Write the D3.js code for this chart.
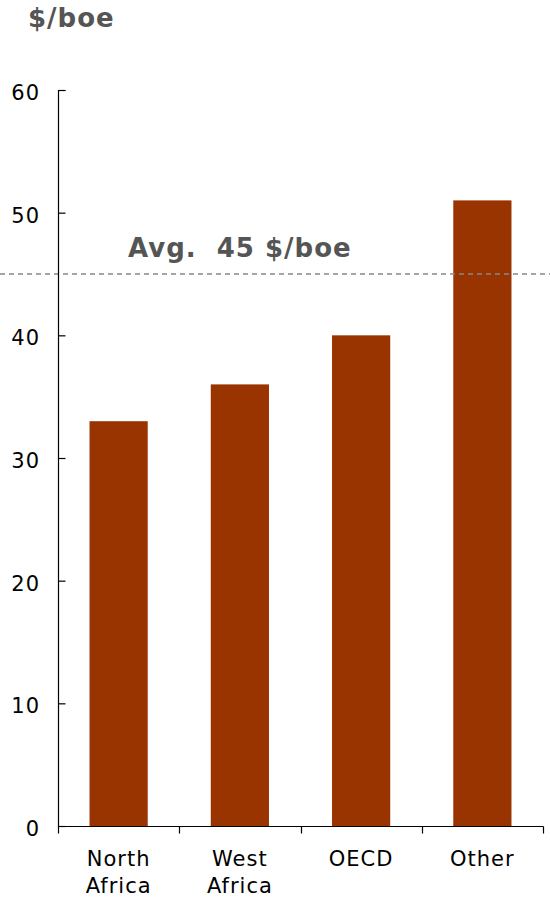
<!DOCTYPE html>
<html>
<head>
<meta charset="utf-8">
<script src="https://cdn.jsdelivr.net/npm/d3@7"></script>
<style>
  html, body { margin: 0; padding: 0; background: #fff; }
  svg { display: block; font-family: "DejaVu Sans", Verdana, sans-serif; }
</style>
</head>
<body>
<svg id="chart" width="550" height="899"></svg>
<script>
// Cost per barrel of oil equivalent by region
const categories = [["North", "Africa"], ["West", "Africa"], ["OECD"], ["Other"]];
const values = [33, 36, 40, 51];
const average = 45;
const yTicks = [0, 10, 20, 30, 40, 50, 60];

const svg = d3.select("#chart");
const plotLeft = 58, plotRight = 543, plotTop = 90, plotBottom = 826;

const x = d3.scaleBand()
  .domain(categories.map((d, i) => i))
  .range([plotLeft, plotRight])
  .paddingInner(0.52)
  .paddingOuter(0.26);

const y = d3.scaleLinear().domain([0, 60]).range([plotBottom, plotTop]);

// Bars
svg.append("g").selectAll("rect")
  .data(values)
  .join("rect")
  .attr("x", (d, i) => x(i))
  .attr("y", d => y(d))
  .attr("width", x.bandwidth())
  .attr("height", d => y(0) - y(d))
  .attr("fill", "#993300");

// Average line
svg.append("line")
  .attr("x1", 0).attr("x2", 550)
  .attr("y1", y(average)).attr("y2", y(average))
  .attr("stroke", "#888")
  .attr("stroke-width", 1.6)
  .attr("stroke-dasharray", "5,4");

svg.append("text")
  .attr("x", 128).attr("y", 257)
  .attr("fill", "#555")
  .attr("font-weight", "bold")
  .attr("font-size", 26)
  .attr("letter-spacing", 1)
  .attr("xml:space", "preserve")
  .text("Avg.  " + average + " $/boe");

// Y axis
const yAxis = svg.append("g")
  .attr("transform", `translate(${plotLeft + 0.5},0)`)
  .call(d3.axisRight(y).tickValues(yTicks).tickSize(7).tickFormat(""));
yAxis.selectAll("path, line").attr("stroke", "#000").attr("stroke-width", 1.2);
yAxis.select(".domain").attr("d", `M7,${plotTop + 0.5}H0V${plotBottom + 0.5}`);

svg.append("g").selectAll("text")
  .data(yTicks)
  .join("text")
  .attr("x", 40)
  .attr("y", d => y(d) + 10)
  .attr("text-anchor", "end")
  .attr("font-size", 21)
  .attr("letter-spacing", 1)
  .attr("fill", "#000")
  .text(d => d);

// X axis with boundary ticks between categories
const xAxis = svg.append("g")
  .attr("transform", `translate(0,${plotBottom + 0.5})`);
xAxis.append("line")
  .attr("x1", plotLeft).attr("x2", plotRight + 0.5)
  .attr("stroke", "#000").attr("stroke-width", 1.2);
const step = (plotRight - plotLeft) / categories.length;
xAxis.selectAll("line.tick")
  .data(d3.range(categories.length + 1))
  .join("line")
  .attr("class", "tick")
  .attr("x1", i => Math.round(plotLeft + i * step) + 0.5)
  .attr("x2", i => Math.round(plotLeft + i * step) + 0.5)
  .attr("y1", 0).attr("y2", 7)
  .attr("stroke", "#000").attr("stroke-width", 1.2);

const labels = svg.append("g").selectAll("text")
  .data(categories)
  .join("text")
  .attr("x", (d, i) => x(i) + x.bandwidth() / 2)
  .attr("y", 866)
  .attr("text-anchor", "middle")
  .attr("font-size", 21)
  .attr("letter-spacing", 1)
  .attr("fill", "#000");
labels.selectAll("tspan")
  .data(d => d)
  .join("tspan")
  .attr("x", function () { return d3.select(this.parentNode).attr("x"); })
  .attr("dy", (d, i) => i === 0 ? 0 : 27)
  .text(d => d);

// Unit title
svg.append("text")
  .attr("x", 28).attr("y", 27)
  .attr("fill", "#555")
  .attr("font-weight", "bold")
  .attr("font-size", 26)
  .attr("letter-spacing", 1)
  .text("$/boe");
</script>
</body>
</html>
